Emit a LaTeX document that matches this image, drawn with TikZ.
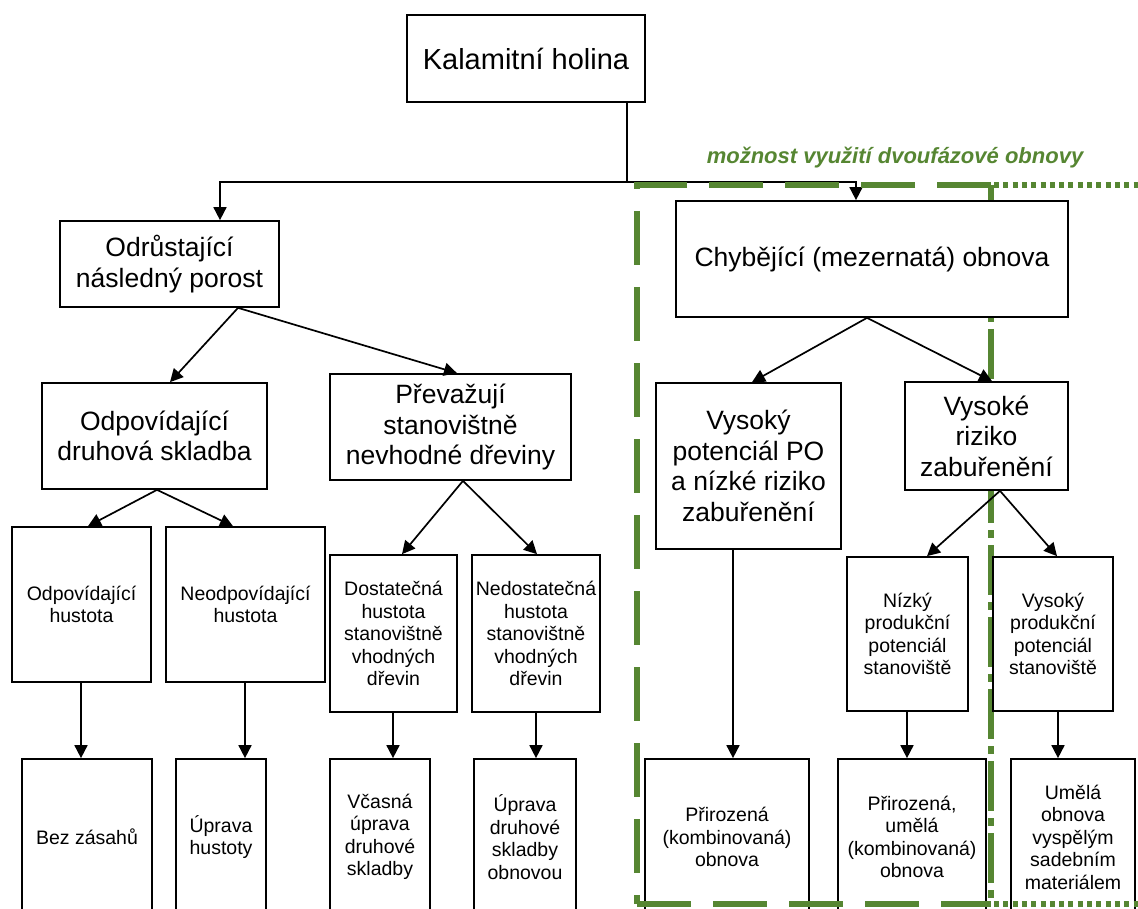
\documentclass[tikz,border=0pt]{standalone}
\usepackage{fontspec}
\setmainfont{Liberation Sans}
\usetikzlibrary{arrows.meta}
\definecolor{grn}{RGB}{86,134,50}
\pgfdeclarelayer{under}
\pgfdeclarelayer{glayer}
\pgfsetlayers{under,glayer,main}
\begin{document}
\begin{tikzpicture}[x=1pt,y=-1pt,
  bx/.style={draw=black, line width=1.7pt, fill=white, inner sep=0pt, align=center},
  bigbx/.style={bx, font={\fontsize{26.5}{30.5}\selectfont}},
  smlbx/.style={bx, font={\fontsize{19.5}{22.5}\selectfont}},
  conn/.style={line width=1.7pt, draw=black},
  arr/.style={conn, -{Triangle[length=13pt,width=13pt]}},
  gdash/.style={draw=grn, line width=6.5pt, dash pattern=on 54pt off 22pt},
  gdot/.style={draw=grn, line width=6.5pt, dash pattern=on 5pt off 4.3pt},
  gdd/.style={draw=grn, line width=6.5pt, dash pattern=on 50pt off 7pt on 8pt off 7pt}]
\path[use as bounding box] (0,0) rectangle (1138,909);

% level 1
\node[bx, font={\fontsize{29}{33}\selectfont}, minimum width=238pt, minimum height=87pt] (kal) at (526,58.5) {Kalamitní holina};
% level 2
\node[bigbx, minimum width=219pt, minimum height=86pt] (odr) at (169.5,264) {Odrůstající\\následný porost};
\node[bigbx, minimum width=392pt, minimum height=116pt] (chy) at (872,259) {Chybějící (mezernatá) obnova};
% level 3
\node[bigbx, minimum width=225pt, minimum height=106pt] (odp) at (154.5,436) {Odpovídající\\druhová skladba};
\node[bigbx, minimum width=241pt, minimum height=106pt] (pre) at (450.5,427) {Převažují\\stanovištně\\nevhodné dřeviny};
\node[bigbx, minimum width=185pt, minimum height=166pt] (vpo) at (748.5,466) {Vysoký\\potenciál PO\\a nízké riziko\\zabuřenění};
\node[bigbx, minimum width=163pt, minimum height=108pt] (vrz) at (986.5,436) {Vysoké\\riziko\\zabuřenění};
% level 4
\node[smlbx, minimum width=139pt, minimum height=155pt] (oh) at (81.5,604.5) {Odpovídající\\hustota};
\node[smlbx, minimum width=159pt, minimum height=155pt] (nh) at (245.5,604.5) {Neodpovídající\\hustota};
\node[smlbx, minimum width=127pt, minimum height=157pt] (dos) at (393.5,633.5) {Dostatečná\\hustota\\stanovištně\\vhodných\\dřevin};
\node[smlbx, minimum width=128pt, minimum height=157pt] (ned) at (536,633.5) {Nedostatečná\\hustota\\stanovištně\\vhodných\\dřevin};
\node[smlbx, minimum width=121pt, minimum height=154pt] (niz) at (907.5,634) {Nízký\\produkční\\potenciál\\stanoviště};
\node[smlbx, minimum width=120pt, minimum height=154pt] (vpr) at (1053,634) {Vysoký\\produkční\\potenciál\\stanoviště};
% level 5
\node[smlbx, minimum width=130pt, minimum height=156pt] (bez) at (87,837) {Bez zásahů};
\node[smlbx, minimum width=90pt, minimum height=156pt] (uh) at (221,837) {Úprava\\hustoty};
\node[smlbx, minimum width=100pt, minimum height=156pt] (vca) at (380,837) {Včasná\\úprava\\druhové\\skladby};
\node[smlbx, minimum width=102pt, minimum height=156pt] (udr) at (525,837) {Úprava\\druhové\\skladby\\obnovou};
\node[smlbx, minimum width=164pt, minimum height=156pt] (pri) at (727,837) {Přirozená\\(kombinovaná)\\obnova};
\node[smlbx, minimum width=148pt, minimum height=156pt] (pu) at (912,837) {Přirozená,\\umělá\\(kombinovaná)\\obnova};
\node[smlbx, minimum width=124pt, minimum height=156pt] (um) at (1073,837) {Umělá\\obnova\\vyspělým\\sadebním\\materiálem};

% green label
\node[text=grn, font={\fontsize{22}{26}\selectfont\bfseries\itshape}, inner sep=0pt] (lbl) at (895,158) {možnost využití dvoufázové obnovy};

% green frames (sides and top under the boxes)
\begin{pgfonlayer}{glayer}
\draw[gdash] (991,185) -- (637,185) -- (637,904);
\draw[gdd] (991,185) -- (991,904);
\draw[gdot] (994,185) -- (1140,185);
\end{pgfonlayer}
% green frame bottom, over the boxes
\draw[gdash] (637,904) -- (991,904);
\draw[gdot] (994,904) -- (1140,904);

% top connectors (under the green frame)
\begin{pgfonlayer}{under}
\coordinate (jn) at (627,182);
\draw[conn] ([xshift=101pt]kal.south) -- (jn);
\draw[arr] (jn) -| ([xshift=50.5pt]odr.north);
\draw[arr] (jn) -| ([xshift=-16pt]chy.north);
\end{pgfonlayer}

% diagonal arrows
\draw[arr] ([xshift=68.5pt]odr.south) -- ([xshift=15.5pt]odp.north);
\draw[arr] ([xshift=68.5pt]odr.south) -- ([xshift=6.5pt]pre.north);
\draw[arr] ([xshift=2.5pt]odp.south) -- ([xshift=6.5pt]oh.north);
\draw[arr] ([xshift=2.5pt]odp.south) -- ([xshift=-12.5pt]nh.north);
\draw[arr] ([xshift=12.5pt]pre.south) -- ([xshift=8.5pt]dos.north);
\draw[arr] ([xshift=12.5pt]pre.south) -- ([xshift=1pt]ned.north);
\draw[arr] ([xshift=-5pt]chy.south) -- ([xshift=3.5pt]vpo.north);
\draw[arr] ([xshift=-5pt]chy.south) -- ([xshift=5.5pt]vrz.north);
\draw[arr] ([xshift=13.5pt]vrz.south) -- ([xshift=19.5pt]niz.north);
\draw[arr] ([xshift=13.5pt]vrz.south) -- ([xshift=4pt]vpr.north);

% vertical arrows to level 5
\draw[arr] ([xshift=-0.5pt]oh.south) -- ([xshift=-0.5pt]oh.south |- bez.north);
\draw[arr] ([xshift=-0.5pt]nh.south) -- ([xshift=-0.5pt]nh.south |- uh.north);
\draw[arr] ([xshift=-0.5pt]dos.south) -- ([xshift=-0.5pt]dos.south |- vca.north);
\draw[arr] (ned.south) -- (ned.south |- udr.north);
\draw[arr] ([xshift=-15.5pt]vpo.south) -- ([xshift=-15.5pt]vpo.south |- pri.north);
\draw[arr] ([xshift=-0.5pt]niz.south) -- ([xshift=-0.5pt]niz.south |- pu.north);
\draw[arr] ([xshift=5pt]vpr.south) -- ([xshift=5pt]vpr.south |- um.north);
\end{tikzpicture}
\end{document}
